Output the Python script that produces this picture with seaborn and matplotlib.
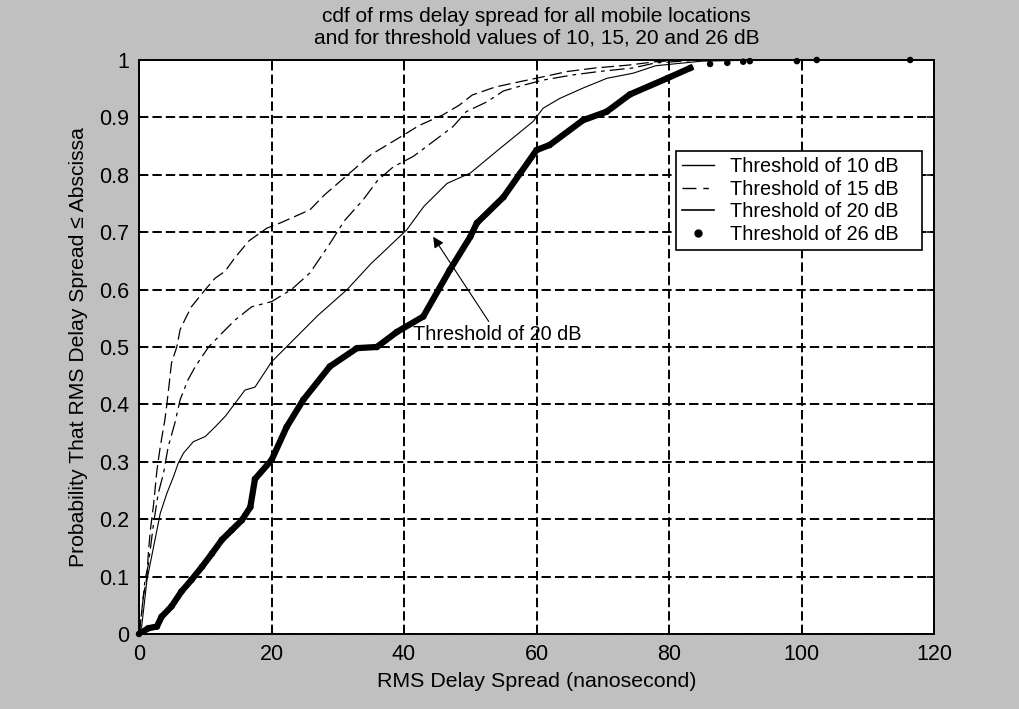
import numpy as np
import pandas as pd
import seaborn as sns
import matplotlib.pyplot as plt
from matplotlib.lines import Line2D

# data (rms delay spread in ns vs cumulative probability)
x_10db = [0, 0.15, 0.65, 1.2, 1.4, 1.7, 2.2, 2.7, 3.2, 3.9, 4.2, 4.4, 4.9, 5.7, 6.2, 6.9, 7.9,
          10, 11.5, 13, 14.5, 16.6, 19.3, 21.3, 25.8, 28, 31.8, 35, 39.9, 42.3, 45.8, 48.3,
          50.3, 53.8, 57.8, 60.3, 64.7, 68.8, 73.8, 78, 82]
y_10db = [0, 0.013, 0.065, 0.1, 0.14, 0.18, 0.226, 0.285, 0.326, 0.373, 0.4, 0.42, 0.472, 0.5,
          0.53, 0.547, 0.57, 0.6, 0.62, 0.632, 0.656, 0.685, 0.707, 0.716, 0.739, 0.765, 0.803,
          0.835, 0.869, 0.886, 0.904, 0.921, 0.939, 0.953, 0.963, 0.969, 0.98, 0.986, 0.991,
          0.997, 1.0]

x_15db = [0, 0.4, 0.9, 1.4, 2.2, 2.9, 3.7, 4.4, 5.4, 6.2, 7.4, 8.5, 10.5, 12.5, 14.5, 17, 20,
          23, 25.8, 28.8, 31, 33.8, 36, 38.4, 41.4, 44.4, 47.4, 49.4, 52.5, 55, 58, 61, 65.5,
          69.5, 74.5, 78, 85]
y_15db = [0, 0.036, 0.094, 0.12, 0.193, 0.245, 0.28, 0.326, 0.367, 0.408, 0.443, 0.466, 0.5,
          0.524, 0.547, 0.57, 0.579, 0.6, 0.629, 0.68, 0.72, 0.756, 0.79, 0.814, 0.832, 0.858,
          0.884, 0.91, 0.927, 0.946, 0.956, 0.965, 0.974, 0.98, 0.986, 0.995, 1.0]

x_20db = [0, 0.4, 1.2, 2.2, 3.2, 4.2, 5.2, 5.9, 6.7, 8.2, 10, 11.5, 13, 14.5, 16, 17.5, 20,
          23.8, 27, 31.4, 35, 40.4, 43, 46.5, 50, 54.5, 59.5, 61, 63.5, 67, 70.6, 74.6, 78,
          85, 95, 109]
y_20db = [0, 0.013, 0.094, 0.152, 0.21, 0.245, 0.274, 0.297, 0.315, 0.335, 0.344, 0.361,
          0.379, 0.402, 0.425, 0.43, 0.474, 0.518, 0.555, 0.6, 0.645, 0.704, 0.745, 0.785,
          0.803, 0.846, 0.893, 0.916, 0.933, 0.951, 0.968, 0.977, 0.99, 0.998, 1.0, 1.0]

x_26db = [0, 1.4, 2.7, 3.4, 4.9, 6.4, 7.9, 9.5, 11, 12.5, 14, 15.5, 16.8, 17.5, 20, 22.3,
          24.8, 28.8, 32.9, 35.9, 38.9, 42.9, 46.9, 50, 51, 55, 57.5, 60, 62, 67, 70.6, 74.1,
          79.7, 83.2, 86.2, 88.8, 91.2, 92.2, 99.3, 102.3, 116.4]
y_26db = [0, 0.01, 0.013, 0.03, 0.048, 0.074, 0.094, 0.117, 0.14, 0.164, 0.181, 0.198, 0.221,
          0.27, 0.303, 0.361, 0.408, 0.466, 0.498, 0.5, 0.526, 0.553, 0.634, 0.692, 0.716,
          0.761, 0.802, 0.843, 0.852, 0.895, 0.91, 0.94, 0.968, 0.986, 0.993, 0.995, 0.997,
          0.998, 0.998, 1.0, 1.0]
n_dense_26 = 34  # dots merge into a thick line up to here

labels = ["Threshold of 10 dB", "Threshold of 15 dB", "Threshold of 20 dB", "Threshold of 26 dB"]

plt.rcParams['font.family'] = ['Liberation Sans', 'DejaVu Sans']

fig = plt.figure(figsize=(10.2, 7.09), dpi=100, facecolor='#c0c0c0')
ax = fig.add_axes([0.1363, 0.1058, 0.7794, 0.8096])
ax.set_facecolor('white')

sns.lineplot(x=x_10db, y=y_10db, ax=ax, sort=False, estimator=None, color='black',
             lw=0.9, linestyle=(0, (10, 4)))
sns.lineplot(x=x_15db, y=y_15db, ax=ax, sort=False, estimator=None, color='black',
             lw=0.9, linestyle=(0, (12, 4, 3, 4)))
sns.lineplot(x=x_20db, y=y_20db, ax=ax, sort=False, estimator=None, color='black', lw=0.8)
sns.lineplot(x=x_26db[:n_dense_26], y=y_26db[:n_dense_26], ax=ax, sort=False, estimator=None,
             color='black', lw=4.5)
sns.scatterplot(x=x_26db, y=y_26db, ax=ax, color='black', s=22, edgecolor='none', zorder=3,
                clip_on=False)

ax.set_xlim(0, 120)
ax.set_ylim(0, 1)
ax.set_xticks(np.arange(0, 121, 20))
ax.set_yticks(np.arange(0, 1.01, 0.1))
ax.set_yticklabels(["0", "0.1", "0.2", "0.3", "0.4", "0.5", "0.6", "0.7", "0.8", "0.9", "1"])
ax.tick_params(direction='in', top=True, right=True, length=5, width=1.2, labelsize=15.5, pad=7)
ax.grid(True, color='black', linestyle=(0, (4.8, 2.1)), lw=1.4)
for s in ax.spines.values():
    s.set_color('black')
    s.set_linewidth(1.4)

ax.set_xlabel("RMS Delay Spread (nanosecond)", fontsize=15.4, labelpad=5)
ax.set_ylabel("Probability That RMS Delay Spread \u2264 Abscissa", fontsize=15.2, labelpad=8)
ax.set_title("cdf of rms delay spread for all mobile locations\n"
             "and for threshold values of 10, 15, 20 and 26 dB", fontsize=15,
             linespacing=1.15, pad=12)

ax.annotate("Threshold of 20 dB", xy=(44.4, 0.692), xytext=(41.4, 0.521),
            ha='left', va='center', fontsize=14.3,
            arrowprops=dict(arrowstyle='-|>', color='black', lw=0.8, mutation_scale=16,
                            shrinkA=1, shrinkB=0))

handles = [Line2D([], [], color='black', lw=1),
           Line2D([], [], color='black', lw=1, linestyle=(0, (10, 5, 4, 5))),
           Line2D([], [], color='black', lw=1.2),
           Line2D([], [], color='black', lw=0, marker='o', markersize=5)]
leg = ax.legend(handles, labels, loc='upper left', bbox_to_anchor=(0.675, 0.666, 0.31, 0.175),
                mode='expand', fontsize=14.3, frameon=True, fancybox=False, framealpha=1,
                edgecolor='black', labelspacing=0.18, handlelength=1.65,
                handletextpad=0.8, borderpad=0.3, borderaxespad=0)
leg.get_frame().set_linewidth(1.2)

fig.savefig("out.png", dpi=100, facecolor=fig.get_facecolor())
